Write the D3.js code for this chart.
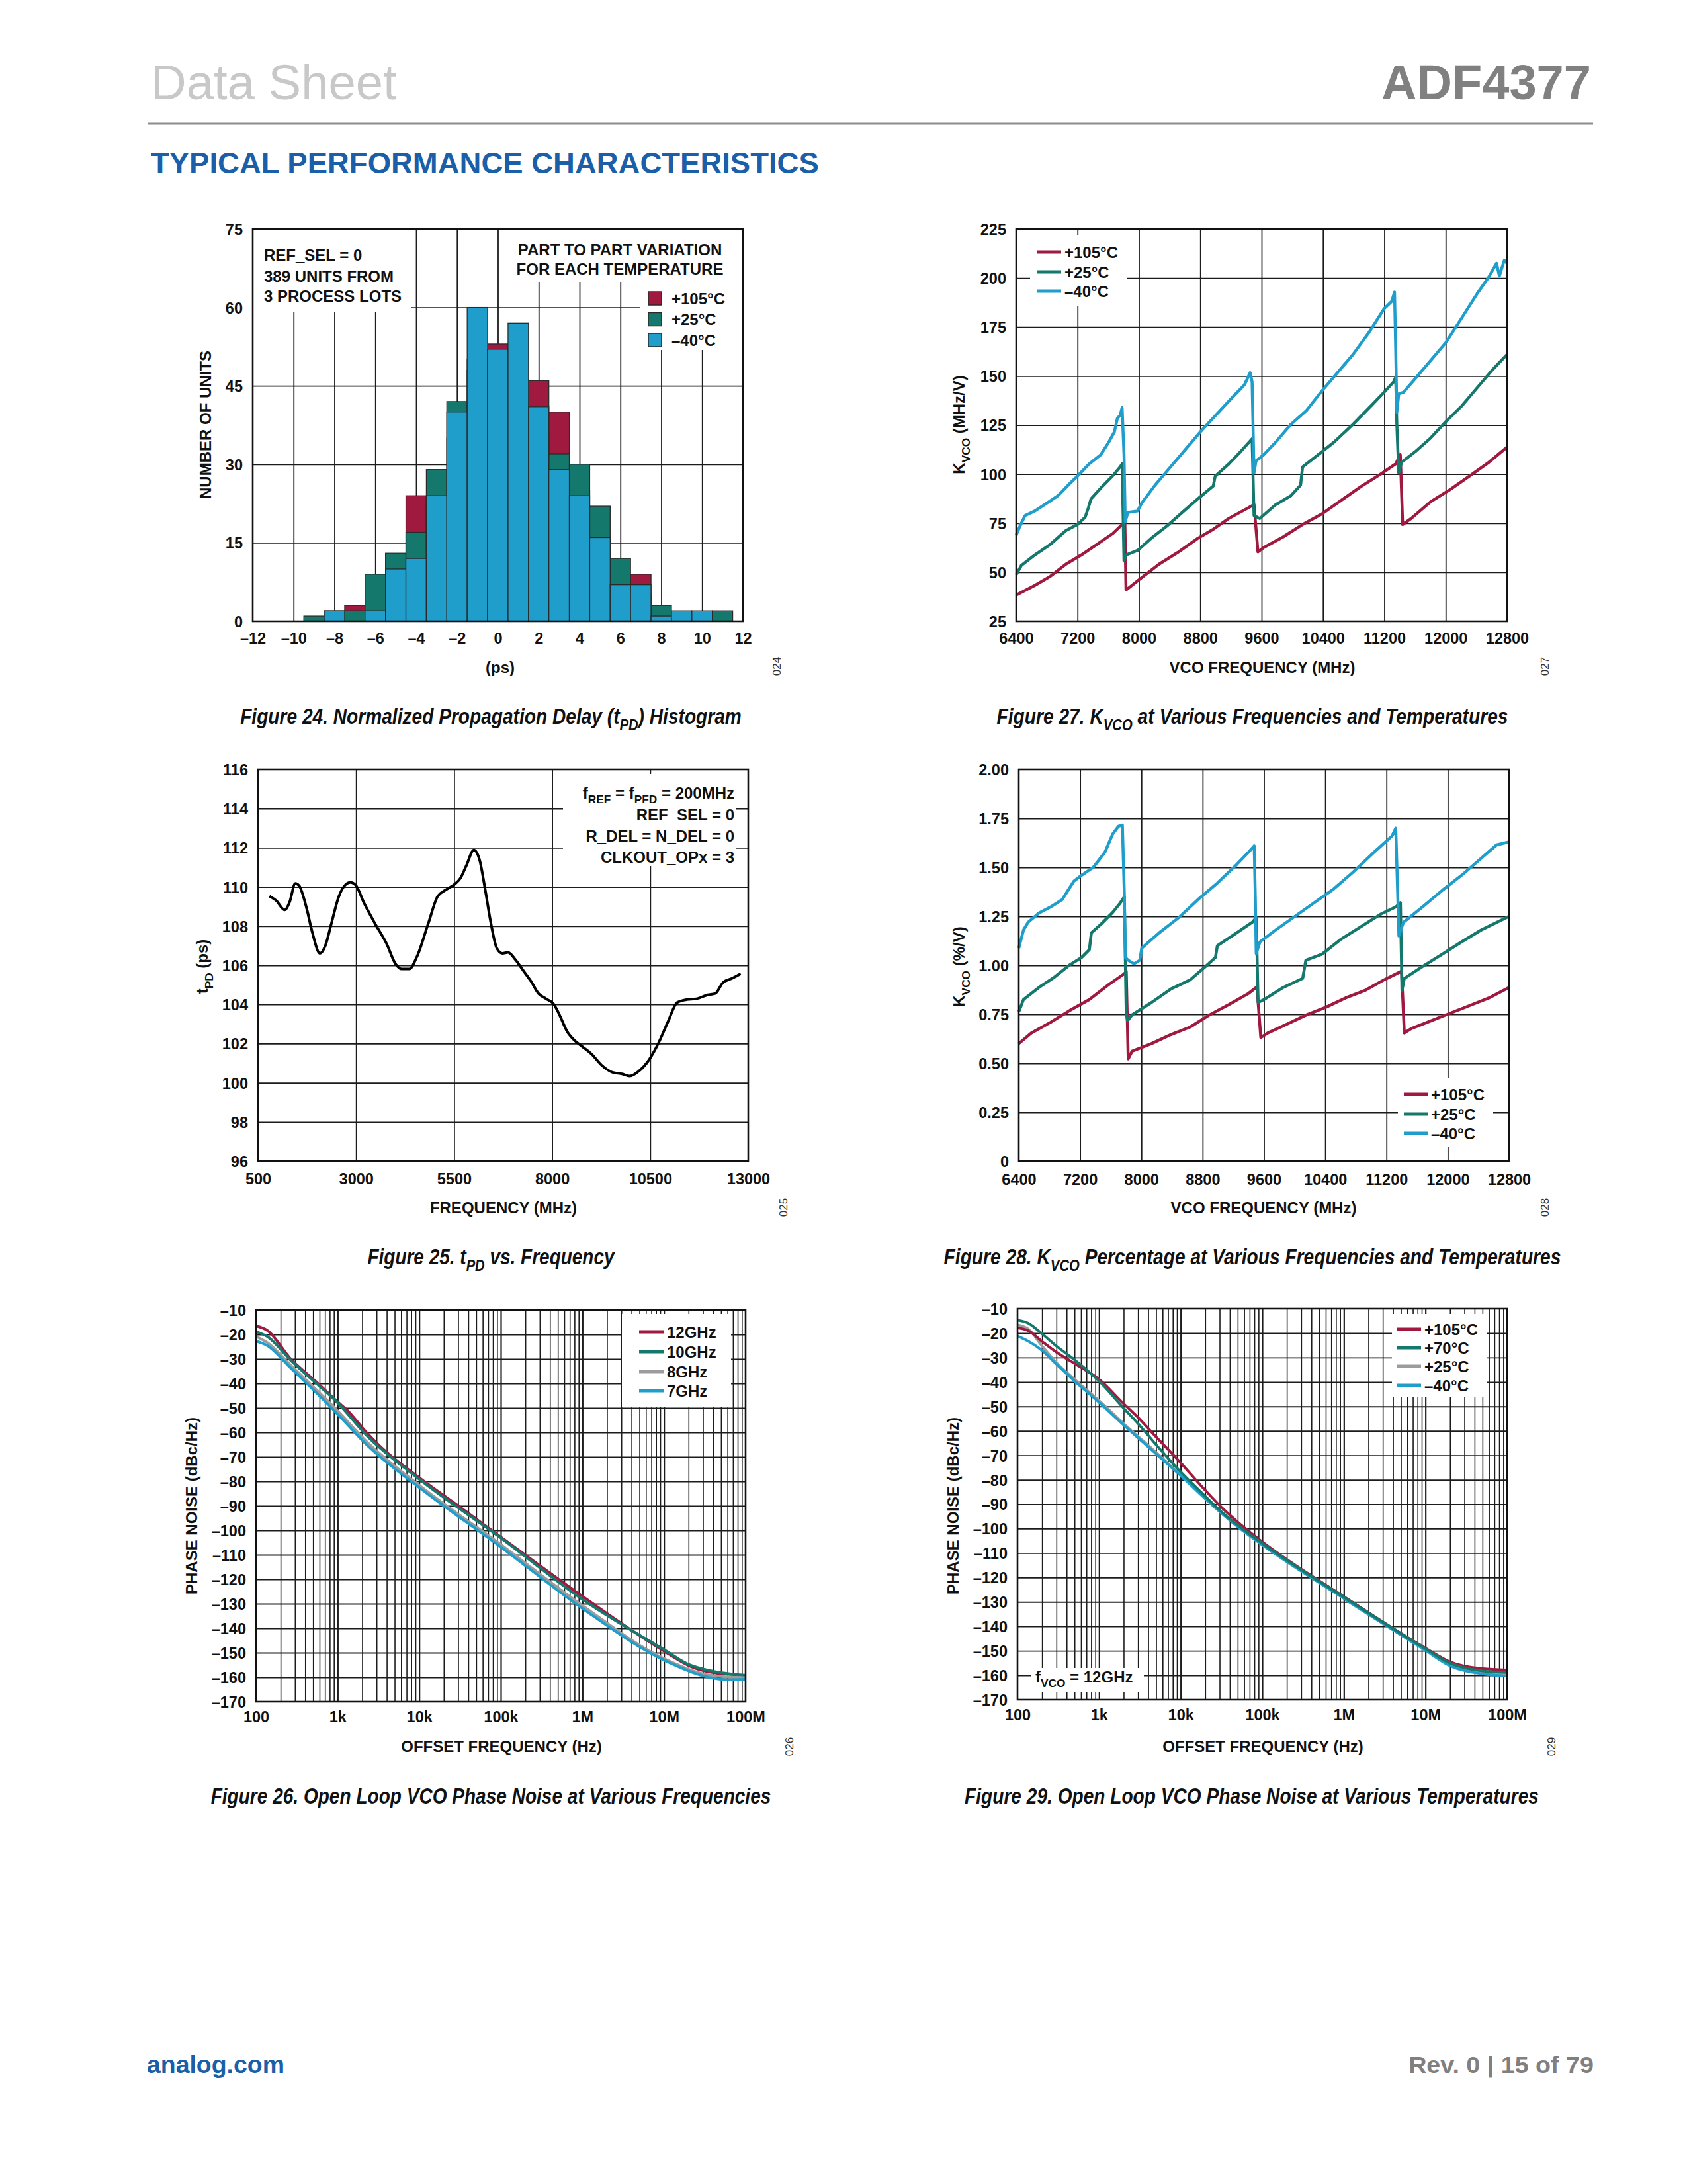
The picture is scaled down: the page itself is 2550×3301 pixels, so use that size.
<!DOCTYPE html>
<html><head><meta charset="utf-8">
<script src="https://cdn.jsdelivr.net/npm/d3@7"></script>
<style>body{margin:0;background:#fff}svg{display:block}</style>
</head><body>
<svg id="page" width="2550" height="3301"></svg>
<script>
// ---------------- DATA ----------------
// Figure 24 histogram
const binCenters = [-9,-8,-7,-6,-5,-4,-3,-2,-1,0,1,2,3,4,5,6,7,8,9,10,11];
const hist105 = [0,1,3,5,10,24,22,35,50,53,45,46,40,25,15,5,9,1,0,0,0];
const hist25  = [1,2,2,9,13,17,29,42,48,44,40,35,32,30,22,12,5,3,1,0,2];
const histM40 = [0,2,0,2,10,12,24,40,60,52,57,41,29,24,16,7,7,1,2,2,0];
const histXTicks = [-12,-10,-8,-6,-4,-2,0,2,4,6,8,10,12];
const histYTicks = [0,15,30,45,60,75];

// Figure 25 tPD vs frequency [MHz, ps]
const tpdData = [[791,109.53],[965,109.3],[1178,108.83],[1304,109.22],[1450,110.18],[1547,110.07],[1740,108.91],[1886,107.67],[2080,106.61],[2225,107.05],[2370,108.13],[2564,109.53],[2710,110.07],[2855,110.23],[3000,110.07],[3194,109.22],[3484,108.13],[3775,107.12],[4017,106.04],[4163,105.81],[4356,105.81],[4550,106.43],[4841,108.13],[5083,109.53],[5277,109.84],[5519,110.15],[5665,110.46],[5810,111.08],[6004,111.89],[6149,111.39],[6295,109.84],[6440,108.13],[6585,106.89],[6731,106.61],[6876,106.66],[7070,106.27],[7264,105.73],[7458,105.19],[7651,104.56],[7845,104.29],[8039,104.02],[8185,103.48],[8379,102.63],[8573,102.16],[8767,101.85],[9009,101.46],[9251,100.92],[9542,100.53],[9784,100.45],[9978,100.34],[10220,100.61],[10462,101.15],[10705,102.0],[10947,103.09],[11189,104.1],[11432,104.25],[11674,104.29],[11965,104.49],[12159,104.56],[12353,105.11],[12595,105.34],[12808,105.57]];
const tpdXTicks = [500,3000,5500,8000,10500,13000];
const tpdYTicks = [96,98,100,102,104,106,108,110,112,114,116];

// Figure 27 KVCO (MHz/V) [MHz, MHz/V]
const kvcoM40 = [[6400,68.8],[6440,72.7],[6516,78.9],[6643,81.2],[6795,85.1],[6946,89.0],[7098,95.2],[7199,99.0],[7351,105.2],[7503,109.9],[7604,116.1],[7680,121.5],[7720,128.5],[7756,130.0],[7781,133.9],[7806,109.9],[7822,75.8],[7857,80.5],[7983,81.2],[8034,85.1],[8211,94.4],[8413,103.7],[8616,113.0],[8818,122.3],[9021,130.8],[9223,139.3],[9375,145.5],[9451,151.7],[9476,147],[9501,100.6],[9527,106.8],[9628,109.9],[9779,116.1],[9982,125.4],[10184,132.4],[10386,142.4],[10589,151.7],[10791,161.0],[10994,171.9],[11196,184.3],[11297,188.1],[11333,192.8],[11348,164],[11363,131.6],[11388,140.9],[11449,141.7],[11601,148.6],[11803,157.9],[12005,167.2],[12208,179.6],[12410,192.0],[12562,200.5],[12663,207.5],[12700,201],[12764,209.0],[12800,207.5]];
const kvco25 = [[6400,48.7],[6466,53.4],[6643,58.8],[6845,64.2],[7048,71.2],[7199,74.3],[7300,78.1],[7341,82.8],[7376,87.4],[7503,92.9],[7655,99.0],[7756,103.7],[7781,105.2],[7806,55.7],[7832,58.8],[7983,61.1],[8161,67.3],[8363,73.5],[8565,80.5],[8768,87.4],[8970,94.0],[8995,99.0],[9172,105.2],[9324,111.4],[9451,116.9],[9476,118],[9501,78.9],[9577,77.4],[9779,84.3],[9982,89.0],[10108,94.4],[10134,103.7],[10285,108.3],[10538,116.1],[10791,125.4],[11044,135.5],[11196,141.7],[11322,147.1],[11348,149.4],[11363,125.4],[11388,100.6],[11424,106.0],[11601,111.4],[11803,118.4],[12005,126.9],[12208,134.7],[12410,144.0],[12612,153.3],[12800,161.0]];
const kvco105 = [[6400,38.3],[6643,43.3],[6845,47.9],[7048,54.1],[7250,58.8],[7452,64.2],[7655,69.6],[7781,74.3],[7817,76],[7832,41.0],[7857,41.7],[8009,46.4],[8262,54.1],[8515,60.3],[8768,67.3],[8970,71.9],[9172,77.4],[9425,82.8],[9501,84.5],[9552,60.3],[9628,62.6],[9881,68.0],[10134,74.3],[10386,79.7],[10639,86.7],[10892,93.6],[11145,99.8],[11348,105.2],[11408,109.9],[11439,74.3],[11550,77.4],[11803,85.9],[12056,92.1],[12309,99.0],[12562,106.0],[12800,113.8]];
const kvcoXTicks = [6400,7200,8000,8800,9600,10400,11200,12000,12800];
const kvcoYTicks = [25,50,75,100,125,150,175,200,225];

// Figure 28 KVCO (%/V)
const kpctM40 = [[6400,1.088],[6461,1.18],[6522,1.22],[6663,1.267],[6815,1.298],[6967,1.336],[7119,1.43],[7220,1.46],[7372,1.50],[7524,1.577],[7625,1.67],[7701,1.71],[7752,1.716],[7777,1.37],[7792,1.04],[7828,1.026],[7904,1.008],[7980,1.026],[8005,1.088],[8233,1.166],[8486,1.243],[8739,1.336],[8992,1.42],[9245,1.515],[9397,1.577],[9473,1.61],[9488,1.336],[9499,1.06],[9549,1.12],[9752,1.18],[10005,1.25],[10258,1.32],[10511,1.39],[10764,1.476],[11017,1.57],[11271,1.66],[11321,1.70],[11346,1.37],[11362,1.15],[11422,1.22],[11676,1.30],[11929,1.383],[12182,1.46],[12435,1.546],[12638,1.615],[12800,1.63]];
const kpct25 = [[6400,0.763],[6461,0.825],[6663,0.887],[6866,0.94],[7068,1.003],[7220,1.04],[7321,1.08],[7347,1.166],[7473,1.21],[7625,1.27],[7727,1.32],[7777,1.35],[7802,0.763],[7818,0.716],[7878,0.747],[8132,0.81],[8385,0.879],[8638,0.926],[8840,0.995],[8967,1.04],[8992,1.10],[9245,1.166],[9448,1.22],[9499,1.243],[9524,0.81],[9600,0.825],[9853,0.887],[10106,0.933],[10147,1.026],[10359,1.057],[10612,1.135],[10866,1.197],[11119,1.26],[11321,1.298],[11382,1.32],[11402,0.871],[11433,0.933],[11676,0.995],[11929,1.057],[12182,1.12],[12435,1.18],[12800,1.25]];
const kpct105 = [[6400,0.60],[6562,0.654],[6815,0.709],[7068,0.77],[7321,0.825],[7575,0.902],[7777,0.957],[7802,0.97],[7828,0.522],[7878,0.561],[8132,0.60],[8385,0.646],[8638,0.685],[8891,0.747],[9144,0.80],[9397,0.856],[9509,0.89],[9559,0.631],[9650,0.654],[9904,0.70],[10157,0.747],[10410,0.786],[10663,0.833],[10916,0.871],[11169,0.926],[11397,0.97],[11433,0.654],[11524,0.677],[11777,0.716],[12030,0.755],[12283,0.794],[12536,0.833],[12800,0.887]];
const kpctYTicks = [0,0.25,0.5,0.75,1.0,1.25,1.5,1.75,2.0];

// Figure 26 phase noise vs VCO frequency [Hz, dBc/Hz]
const pn12G = [[100,-16.5],[137,-18.3],[268,-30.1],[524,-38.8],[1000,-47.5],[1282,-50.6],[2245,-59.9],[3140,-64.9],[1e4,-78.5],[3.1e4,-90.3],[1e5,-102.7],[1e6,-126.9],[1e7,-149.3],[2.16e7,-155.7],[3.78e7,-158],[1e8,-159.2]];
const pn10G = [[100,-18.9],[137,-20.8],[268,-30.7],[524,-39.4],[1000,-47.9],[2245,-61.1],[1e4,-79.1],[1e5,-103.1],[1e6,-128.2],[1e7,-148.7],[2.16e7,-155.2],[1e8,-159.2]];
const pn8G  = [[100,-20.8],[137,-23.3],[268,-32.6],[1000,-51.2],[2245,-63.6],[1e4,-81.6],[1e5,-105.8],[1e6,-130.7],[1e7,-152.4],[3.78e7,-159.2],[1e8,-160.2]];
const pn7G  = [[100,-22.7],[137,-24.5],[268,-33.8],[1000,-52.5],[2245,-64.9],[1e4,-82.5],[1e5,-106.8],[1e6,-131.9],[1e7,-153],[3.78e7,-160.2],[5.9e7,-161],[1e8,-160.8]];
// Figure 29 phase noise vs temperature
const pnT105 = [[100,-17.8],[137,-19.1],[200,-23.4],[300,-27.8],[500,-32.4],[1000,-38.9],[2000,-48.9],[3000,-54.5],[5000,-62.5],[1e4,-73.1],[2e4,-84.3],[3e4,-90.5],[5e4,-97.3],[1e5,-105.4],[1e6,-127.8],[1e7,-148.9],[2e7,-154.5],[5e7,-157.3],[1e8,-157.8]];
const pnT70  = [[100,-14.7],[137,-16],[200,-20.3],[300,-25.3],[500,-30.9],[1000,-39.6],[2000,-50.7],[3000,-57],[5000,-65.7],[1e4,-76.8],[2e4,-86.8],[3e4,-92.4],[5e4,-98.6],[1e5,-106],[1e6,-128],[1e7,-149.1],[2e7,-155],[5e7,-158.2],[1e8,-158.8]];
const pnT25  = [[100,-16.6],[137,-18.4],[200,-25.3],[300,-32.1],[500,-38.9],[1000,-47.6],[2000,-57],[5000,-68.8],[1e4,-78.1],[2e4,-87.4],[5e4,-99.2],[1e5,-106.6],[1e6,-128.4],[1e7,-149.5],[2e7,-155.7],[5e7,-158.8],[1e8,-159.4]];
const pnTM40 = [[100,-21.2],[137,-23.4],[200,-27.1],[300,-32.7],[500,-39.6],[1000,-48.3],[2000,-57.6],[5000,-69.4],[1e4,-78.3],[2e4,-87.8],[5e4,-99.2],[1e5,-106.6],[1e6,-128.6],[1e7,-149.8],[2e7,-156.1],[5e7,-159.4],[1e8,-160.3]];
const pnXTicks = [1e2,1e3,1e4,1e5,1e6,1e7,1e8];
const pnXLabels = ['100','1k','10k','100k','1M','10M','100M'];
const pnYTicks = [-170,-160,-150,-140,-130,-120,-110,-100,-90,-80,-70,-60,-50,-40,-30,-20,-10];

// ---------------- STYLE ----------------
const FONT = '"Liberation Sans", Arial, Helvetica, sans-serif';
const NARROW = '"Liberation Sans Narrow","Arial Narrow","Liberation Sans",Arial,sans-serif';
const RED = '#A01A40', TEAL = '#14786C', BLUE = '#1F9DCB', GRAY = '#9C9C9C';
const INK = '#111', GRID = '#1c1c1c', ADIBLUE = '#1A5FA8';
const TICK = 23.5, LBL = 24;
const dash = d => d < 0 ? '\u2013' + Math.abs(d) : String(d);

const svg = d3.select('#page');

function txt(g, s, x, y, o = {}) {
  return g.append('text').attr('x', x).attr('y', y)
    .attr('font-family', o.family || FONT).attr('font-size', o.size || LBL)
    .attr('font-weight', o.weight || 'bold').attr('font-style', o.style || 'normal')
    .attr('fill', o.fill || INK).attr('text-anchor', o.anchor || 'start').text(s);
}
function rich(g, parts, x, y, o = {}) {
  const size = o.size || LBL;
  const t = g.append('text').attr('x', x).attr('y', y)
    .attr('font-family', o.family || FONT).attr('font-size', size)
    .attr('font-weight', o.weight || 'bold').attr('font-style', o.style || 'normal')
    .attr('fill', o.fill || INK).attr('text-anchor', o.anchor || 'start');
  let shifted = false;
  parts.forEach(p => {
    const sub = Array.isArray(p);
    const s = sub ? p[0] : p;
    const ts = t.append('tspan').text(s);
    if (sub) { ts.attr('font-size', size * 0.72); if (!shifted) ts.attr('dy', size * 0.3); shifted = true; }
    else if (shifted) { ts.attr('dy', -size * 0.3); shifted = false; }
  });
  return t;
}
function fit(sel, anchor, x, y, w) {
  sel.attr('text-anchor', anchor).attr('x', 0).attr('y', 0);
  const bw = sel.node().getBBox().width;
  sel.attr('transform', `translate(${x},${y}) scale(${w / bw},1)`);
}
function yTitle(g, parts, cx, cy) {
  const t = rich(g, parts, 0, 0, { anchor: 'middle' });
  t.attr('dy', '0.35em').attr('transform', `translate(${cx},${cy}) rotate(-90)`);
  return t;
}
function code(s, cx, cy) {
  svg.append('text').attr('font-family', FONT).attr('font-size', 17).attr('fill', '#333')
    .attr('text-anchor', 'middle').attr('dy', '0.35em')
    .attr('transform', `translate(${cx},${cy}) rotate(-90)`).text(s);
}

function chart(p) {
  const g = svg.append('g');
  const L = { grid: g.append('g'), box: g.append('g'), data: g.append('g'), frame: g.append('g'), text: g.append('g') };
  const H = p.y1 - p.y0, W = p.x1 - p.x0;
  L.grid.append('g').attr('transform', `translate(0,${p.y1})`)
    .call(d3.axisBottom(p.x).tickValues(p.xGrid).tickSize(-H).tickFormat(''))
    .call(s => { s.select('.domain').remove(); s.selectAll('line').attr('stroke', GRID).attr('stroke-width', d => p.xGridW ? p.xGridW(d) : 1.8); });
  L.grid.append('g').attr('transform', `translate(${p.x0},0)`)
    .call(d3.axisLeft(p.y).tickValues(p.yGrid).tickSize(-W).tickFormat(''))
    .call(s => { s.select('.domain').remove(); s.selectAll('line').attr('stroke', GRID).attr('stroke-width', 1.8); });
  L.text.append('g').attr('transform', `translate(0,${p.y1})`)
    .call(d3.axisBottom(p.x).tickValues(p.xLab).tickSize(0).tickFormat(p.xFmt))
    .call(s => { s.select('.domain').remove(); s.selectAll('text').attr('y', p.xLabOff).attr('dy', null)
      .attr('font-size', TICK).attr('font-weight', 'bold').attr('font-family', FONT).attr('fill', INK); });
  L.text.append('g').attr('transform', `translate(${p.x0},0)`)
    .call(d3.axisLeft(p.y).tickValues(p.yLab).tickSize(0).tickPadding(15).tickFormat(p.yFmt))
    .call(s => { s.select('.domain').remove(); s.selectAll('text').attr('dy', '0.36em')
      .attr('font-size', TICK).attr('font-weight', 'bold').attr('font-family', FONT).attr('fill', INK); });
  L.frame.append('rect').attr('x', p.x0).attr('y', p.y0).attr('width', W).attr('height', H)
    .attr('fill', 'none').attr('stroke', INK).attr('stroke-width', 2.6);
  return L;
}
function wbox(L, x0, y0, x1, y1) {
  L.box.append('rect').attr('x', x0).attr('y', y0).attr('width', x1 - x0).attr('height', y1 - y0).attr('fill', '#fff');
}
function legendLines(L, items, x0, x1, ys, tx) {
  items.forEach((it, i) => {
    L.text.append('line').attr('x1', x0).attr('x2', x1).attr('y1', ys[i]).attr('y2', ys[i])
      .attr('stroke', it[1]).attr('stroke-width', 5);
    txt(L.text, it[0], tx, ys[i] + 8.5);
  });
}
function caption(parts, cx, y, w) {
  const t = rich(svg, parts, 0, 0, { family: NARROW, size: 34, style: 'italic' });
  fit(t, 'middle', cx, y, w);
}

// ---------------- HEADER / FOOTER ----------------
fit(txt(svg, 'Data Sheet', 0, 0, { size: 75, weight: 'normal', fill: '#c8c8c8' }), 'start', 228, 150, 372);
fit(txt(svg, 'ADF4377', 0, 0, { size: 75, fill: '#808080' }), 'end', 2405, 150, 317);
svg.append('line').attr('x1', 224).attr('x2', 2408).attr('y1', 187).attr('y2', 187).attr('stroke', '#8c8c8c').attr('stroke-width', 3);
fit(txt(svg, 'TYPICAL PERFORMANCE CHARACTERISTICS', 0, 0, { size: 45, fill: ADIBLUE }), 'start', 228, 262, 1010);
fit(txt(svg, 'analog.com', 0, 0, { size: 37, fill: ADIBLUE }), 'start', 222, 3133, 208);
fit(txt(svg, 'Rev. 0 | 15 of 79', 0, 0, { size: 36, fill: '#808080' }), 'end', 2409, 3133, 280);

// ---------------- FIGURE 24 ----------------
{
  const p = { x0: 382, x1: 1123, y0: 346, y1: 939 };
  p.x = d3.scaleLinear().domain([-12, 12]).range([p.x0, p.x1]);
  p.y = d3.scaleLinear().domain([0, 75]).range([p.y1, p.y0]);
  Object.assign(p, { xGrid: d3.range(-10, 11, 2), yGrid: [15, 30, 45, 60], xLab: histXTicks, yLab: histYTicks, xFmt: dash, yFmt: d => d, xLabOff: 34 });
  const L = chart(p);
  wbox(L, p.x0, p.y0, 622, 472);
  wbox(L, 770, p.y0, p.x1, 426);
  wbox(L, 967, 426, p.x1, 529);
  [[hist105, RED], [hist25, TEAL], [histM40, BLUE]].forEach(([vals, c]) => {
    L.data.append('g').selectAll('rect').data(binCenters.map((b, i) => [b, vals[i]]).filter(d => d[1] > 0))
      .join('rect').attr('x', d => p.x(d[0] - 0.5)).attr('width', d => p.x(d[0] + 0.5) - p.x(d[0] - 0.5))
      .attr('y', d => p.y(d[1])).attr('height', d => p.y(0) - p.y(d[1]))
      .attr('fill', c).attr('stroke', '#2a2a2a').attr('stroke-width', 1.3);
  });
  txt(L.text, 'REF_SEL = 0', 399, 394);
  txt(L.text, '389 UNITS FROM', 399, 426);
  txt(L.text, '3 PROCESS LOTS', 399, 456);
  txt(L.text, 'PART TO PART VARIATION', 937, 386, { anchor: 'middle' });
  txt(L.text, 'FOR EACH TEMPERATURE', 937, 415, { anchor: 'middle' });
  [['+105°C', RED], ['+25°C', TEAL], ['\u201340°C', BLUE]].forEach((it, i) => {
    const cy = 451 + i * 31.5;
    L.text.append('rect').attr('x', 980).attr('y', cy - 10).attr('width', 20).attr('height', 20)
      .attr('fill', it[1]).attr('stroke', '#2a2a2a').attr('stroke-width', 1.5);
    txt(L.text, it[0], 1015, cy + 8.5);
  });
  txt(L.text, '(ps)', 756, 1017, { anchor: 'middle' });
  yTitle(L.text, ['NUMBER OF UNITS'], 311, 642);
  code('024', 1174, 1007);
  caption(['Figure 24. Normalized Propagation Delay (t', ['PD'], ') Histogram'], 742, 1094, 758);
}

// ---------------- FIGURE 27 ----------------
{
  const p = { x0: 1536, x1: 2278, y0: 346, y1: 939 };
  p.x = d3.scaleLinear().domain([6400, 12800]).range([p.x0, p.x1]);
  p.y = d3.scaleLinear().domain([25, 225]).range([p.y1, p.y0]);
  Object.assign(p, { xGrid: kvcoXTicks.slice(1, -1), yGrid: kvcoYTicks.slice(1, -1), xLab: kvcoXTicks, yLab: kvcoYTicks, xFmt: d => d, yFmt: d => d, xLabOff: 34 });
  const L = chart(p);
  wbox(L, 1557, 355, 1703, 462);
  const line = d3.line().x(d => p.x(d[0])).y(d => p.y(d[1]));
  [[kvco105, RED], [kvco25, TEAL], [kvcoM40, BLUE]].forEach(([d, c]) =>
    L.data.append('path').attr('d', line(d)).attr('fill', 'none').attr('stroke', c).attr('stroke-width', 4.5).attr('stroke-linejoin', 'round'));
  legendLines(L, [['+105°C', RED], ['+25°C', TEAL], ['\u201340°C', BLUE]], 1568, 1604, [381, 411, 440], 1609);
  txt(L.text, 'VCO FREQUENCY (MHz)', 1908, 1017, { anchor: 'middle' });
  yTitle(L.text, ['K', ['VCO'], ' (MHz/V)'], 1450, 642);
  code('027', 2335, 1007);
  caption(['Figure 27. K', ['VCO'], ' at Various Frequencies and Temperatures'], 1893, 1094, 773);
}

// ---------------- FIGURE 25 ----------------
{
  const p = { x0: 390, x1: 1131, y0: 1163, y1: 1755 };
  p.x = d3.scaleLinear().domain([500, 13000]).range([p.x0, p.x1]);
  p.y = d3.scaleLinear().domain([96, 116]).range([p.y1, p.y0]);
  Object.assign(p, { xGrid: tpdXTicks.slice(1, -1), yGrid: tpdYTicks.slice(1, -1), xLab: tpdXTicks, yLab: tpdYTicks, xFmt: d => d, yFmt: d => d, xLabOff: 35 });
  const L = chart(p);
  wbox(L, 851, 1170, 1113, 1309);
  const line = d3.line().x(d => p.x(d[0])).y(d => p.y(d[1])).curve(d3.curveMonotoneX);
  L.data.append('path').attr('d', line(tpdData)).attr('fill', 'none').attr('stroke', '#000').attr('stroke-width', 4).attr('stroke-linejoin', 'round');
  rich(L.text, ['f', ['REF'], ' = f', ['PFD'], ' = 200MHz'], 1110, 1207, { anchor: 'end' });
  txt(L.text, 'REF_SEL = 0', 1110, 1240, { anchor: 'end' });
  txt(L.text, 'R_DEL = N_DEL = 0', 1110, 1272, { anchor: 'end' });
  txt(L.text, 'CLKOUT_OPx = 3', 1110, 1304, { anchor: 'end' });
  txt(L.text, 'FREQUENCY (MHz)', 761, 1834, { anchor: 'middle' });
  yTitle(L.text, ['t', ['PD'], ' (ps)'], 306, 1461);
  code('025', 1184, 1825);
  caption(['Figure 25. t', ['PD'], ' vs. Frequency'], 742, 1911, 375);
}

// ---------------- FIGURE 28 ----------------
{
  const p = { x0: 1540, x1: 2281, y0: 1163, y1: 1755 };
  p.x = d3.scaleLinear().domain([6400, 12800]).range([p.x0, p.x1]);
  p.y = d3.scaleLinear().domain([0, 2]).range([p.y1, p.y0]);
  Object.assign(p, { xGrid: kvcoXTicks.slice(1, -1), yGrid: kpctYTicks.slice(1, -1), xLab: kvcoXTicks, yLab: kpctYTicks, xFmt: d => d, yFmt: d => d === 0 ? '0' : d.toFixed(2), xLabOff: 36 });
  const L = chart(p);
  wbox(L, 2113, 1630, 2257, 1734);
  const line = d3.line().x(d => p.x(d[0])).y(d => p.y(d[1]));
  [[kpct105, RED], [kpct25, TEAL], [kpctM40, BLUE]].forEach(([d, c]) =>
    L.data.append('path').attr('d', line(d)).attr('fill', 'none').attr('stroke', c).attr('stroke-width', 4.5).attr('stroke-linejoin', 'round'));
  legendLines(L, [['+105°C', RED], ['+25°C', TEAL], ['\u201340°C', BLUE]], 2122, 2158, [1654, 1684, 1713], 2163);
  txt(L.text, 'VCO FREQUENCY (MHz)', 1910, 1834, { anchor: 'middle' });
  yTitle(L.text, ['K', ['VCO'], ' (%/V)'], 1450, 1461);
  code('028', 2335, 1825);
  caption(['Figure 28. K', ['VCO'], ' Percentage at Various Frequencies and Temperatures'], 1893, 1911, 933);
}

// ---------------- PHASE NOISE CHARTS ----------------
function pnChart(box) {
  const p = Object.assign({}, box);
  p.x = d3.scaleLog().domain([1e2, 1e8]).range([p.x0, p.x1]);
  p.y = d3.scaleLinear().domain([-170, -10]).range([p.y1, p.y0]);
  const grid = [];
  pnXTicks.slice(0, -1).forEach(dec => { for (let m = 1; m < 10; m++) grid.push(dec * m); });
  Object.assign(p, { xGrid: grid.slice(1), yGrid: pnYTicks.slice(1, -1), xLab: pnXTicks, yLab: pnYTicks,
    xFmt: (d, i) => pnXLabels[i], yFmt: dash, xLabOff: 31,
    xGridW: d => pnXTicks.includes(d) ? 2.2 : 1.6 });
  return [p, chart(p)];
}

// ---------------- FIGURE 26 ----------------
{
  const [p, L] = pnChart({ x0: 387, x1: 1127, y0: 1980, y1: 2572 });
  wbox(L, 940, 1986, 1105, 2126);
  const line = d3.line().x(d => p.x(d[0])).y(d => p.y(d[1])).curve(d3.curveMonotoneX);
  [[pn12G, RED], [pn10G, TEAL], [pn8G, GRAY], [pn7G, BLUE]].forEach(([d, c]) =>
    L.data.append('path').attr('d', line(d)).attr('fill', 'none').attr('stroke', c).attr('stroke-width', 4));
  legendLines(L, [['12GHz', RED], ['10GHz', TEAL], ['8GHz', GRAY], ['7GHz', BLUE]], 966, 1003, [2013, 2043, 2073, 2102], 1008);
  txt(L.text, 'OFFSET FREQUENCY (Hz)', 758, 2648, { anchor: 'middle' });
  yTitle(L.text, ['PHASE NOISE (dBc/Hz)'], 290, 2276);
  code('026', 1193, 2640);
  caption(['Figure 26. Open Loop VCO Phase Noise at Various Frequencies'], 742, 2726, 847);
}

// ---------------- FIGURE 29 ----------------
{
  const [p, L] = pnChart({ x0: 1538, x1: 2278, y0: 1978, y1: 2569 });
  wbox(L, 2104, 1986, 2248, 2112);
  wbox(L, 1558, 2521, 1729, 2557);
  const line = d3.line().x(d => p.x(d[0])).y(d => p.y(d[1])).curve(d3.curveMonotoneX);
  [[pnT25, GRAY], [pnTM40, BLUE], [pnT105, RED], [pnT70, TEAL]].forEach(([d, c]) =>
    L.data.append('path').attr('d', line(d)).attr('fill', 'none').attr('stroke', c).attr('stroke-width', 4));
  legendLines(L, [['+105°C', RED], ['+70°C', TEAL], ['+25°C', GRAY], ['\u201340°C', BLUE]], 2111, 2148, [2009, 2037, 2065, 2094], 2153);
  rich(L.text, ['f', ['VCO'], ' = 12GHz'], 1565, 2543);
  txt(L.text, 'OFFSET FREQUENCY (Hz)', 1909, 2648, { anchor: 'middle' });
  yTitle(L.text, ['PHASE NOISE (dBc/Hz)'], 1441, 2276);
  code('029', 2345, 2640);
  caption(['Figure 29. Open Loop VCO Phase Noise at Various Temperatures'], 1892, 2726, 868);
}
</script>
</body></html>
